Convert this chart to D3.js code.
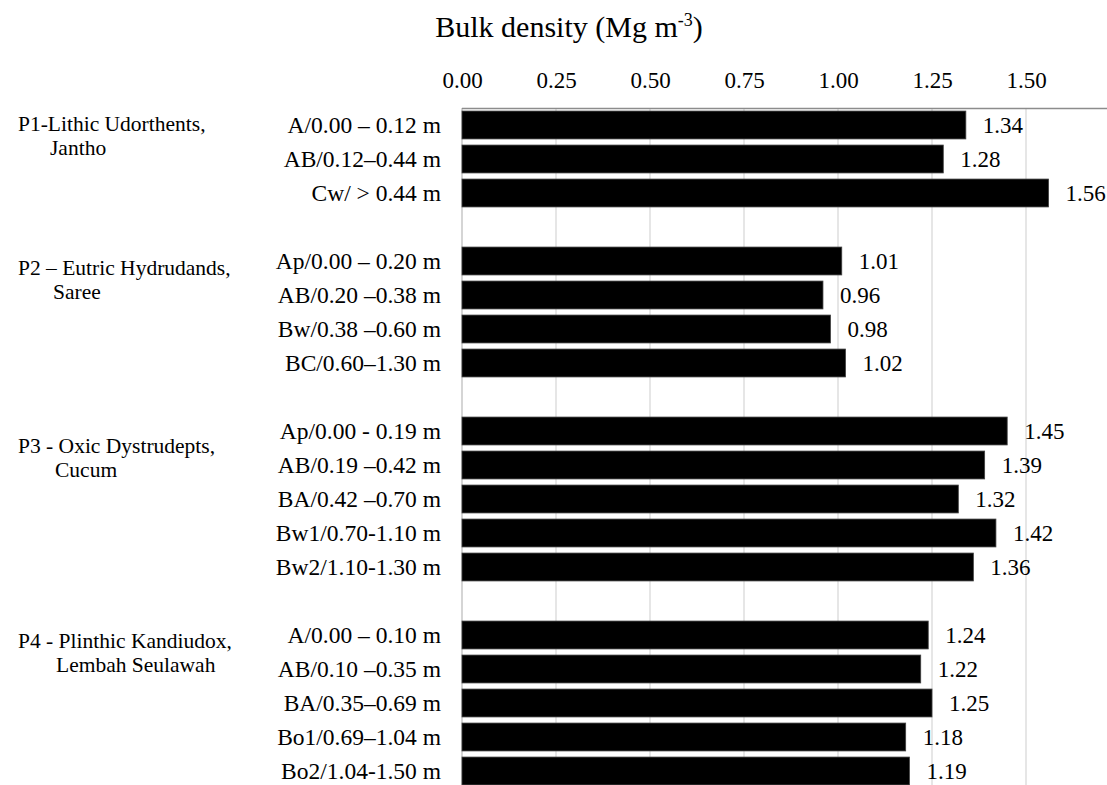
<!DOCTYPE html>
<html>
<head>
<meta charset="utf-8">
<script src="https://cdn.jsdelivr.net/npm/d3@7"></script>
<style>
  body { margin: 0; background: #fff; }
  text { font-family: "Liberation Serif", "Times New Roman", serif; fill: #000; }
</style>
</head>
<body>
<div id="root"></div>
<script>
// Horizons (one row each), blank rows separate the profiles
const horizons = [
  "A/0.00 – 0.12 m", "AB/0.12–0.44 m", "Cw/ > 0.44 m",
  "Ap/0.00 – 0.20 m", "AB/0.20 –0.38 m", "Bw/0.38 –0.60 m", "BC/0.60–1.30 m",
  "Ap/0.00 - 0.19 m", "AB/0.19 –0.42 m", "BA/0.42 –0.70 m", "Bw1/0.70-1.10 m", "Bw2/1.10-1.30 m",
  "A/0.00 – 0.10 m", "AB/0.10 –0.35 m", "BA/0.35–0.69 m", "Bo1/0.69–1.04 m", "Bo2/1.04-1.50 m",
];
const bulkDensity = [
  1.34, 1.28, 1.56,
  1.01, 0.96, 0.98, 1.02,
  1.45, 1.39, 1.32, 1.42, 1.36,
  1.24, 1.22, 1.25, 1.18, 1.19,
];
const profileOf = [0, 0, 0, 1, 1, 1, 1, 2, 2, 2, 2, 2, 3, 3, 3, 3, 3];
const profileNames = [
  ["P1-Lithic Udorthents,", "Jantho"],
  ["P2 – Eutric Hydrudands,", "Saree"],
  ["P3 - Oxic Dystrudepts,", "Cucum"],
  ["P4 - Plinthic Kandiudox,", "Lembah Seulawah"],
];
const xTicks = [0, 0.25, 0.5, 0.75, 1.0, 1.25, 1.5];

// Layout
const width = 1107;
const height = 785;
const x0 = 462;
const pxPerUnit = 376;
const topY = 108;
const rowStep = 34;
const labelDy = [20, 28, 36, 27]; // baseline of profile name below its first bar
const indent = [50, 53, 55, 56];

// Build slot list: each profile's rows then one blank slot
const rows = horizons.map((h, i) => ({ label: h, value: bulkDensity[i], profile: profileOf[i] }));
const slots = [];
rows.forEach((r, i) => {
  if (i > 0 && r.profile !== rows[i - 1].profile) slots.push("gap" + r.profile);
  r.slot = "row" + i;
  slots.push(r.slot);
});

const svg = d3.select("#root").append("svg")
  .attr("width", width)
  .attr("height", height);

const x = d3.scaleLinear().domain([0, 1.75]).range([x0, x0 + 1.75 * pxPerUnit]);
const y = d3.scaleBand()
  .domain(slots)
  .range([topY, topY + slots.length * rowStep])
  .paddingInner(0.18)
  .paddingOuter(0.09);

// Gridlines
svg.append("g")
  .selectAll("line")
  .data(xTicks)
  .join("line")
  .attr("x1", (d) => x(d))
  .attr("x2", (d) => x(d))
  .attr("y1", topY)
  .attr("y2", height)
  .attr("stroke", (d) => (d === 0 ? "#bfbfbf" : "#d9d9d9"))
  .attr("stroke-width", 1.3);

// Top axis
const xAxis = d3.axisTop(x)
  .tickValues(xTicks)
  .tickFormat(d3.format(".2f"))
  .tickSize(0)
  .tickPadding(20);
const axisG = svg.append("g")
  .attr("transform", `translate(0,${topY})`)
  .call(xAxis);
axisG.select(".domain").attr("stroke", "#8c8c8c").attr("stroke-width", 1.3)
  .attr("d", `M${x0},0.5H${width}`);
axisG.selectAll("text")
  .attr("dy", 0)
  .style("font-family", '"Liberation Serif", serif')
  .style("font-size", "23px")
  .attr("fill", "#000");

// Title
svg.append("text")
  .attr("x", 569)
  .attr("y", 37)
  .attr("text-anchor", "middle")
  .style("font-size", "30px")
  .html('Bulk density (Mg m<tspan dy="-11" font-size="18px">-3</tspan><tspan dy="11">)</tspan>');

// Bars
svg.append("g")
  .selectAll("rect")
  .data(rows)
  .join("rect")
  .attr("x", x(0))
  .attr("y", (d) => y(d.slot))
  .attr("width", (d) => x(d.value) - x(0))
  .attr("height", y.bandwidth())
  .attr("fill", "#000")
  .attr("stroke", "#404040")
  .attr("stroke-width", 0.8);

// Value labels
svg.append("g")
  .selectAll("text")
  .data(rows)
  .join("text")
  .attr("x", (d) => x(d.value) + 17)
  .attr("y", (d) => y(d.slot) + y.bandwidth() / 2)
  .attr("dy", "0.35em")
  .style("font-size", "23px")
  .text((d) => d.value.toFixed(2));

// Horizon labels
svg.append("g")
  .selectAll("text")
  .data(rows)
  .join("text")
  .attr("x", 441)
  .attr("y", (d) => y(d.slot) + y.bandwidth() / 2)
  .attr("dy", "0.35em")
  .attr("text-anchor", "end")
  .style("font-size", "23.5px")
  .text((d) => d.label);

// Profile names
profileNames.forEach((lines, p) => {
  const first = rows.find((r) => r.profile === p);
  const by = y(first.slot) + labelDy[p];
  const t = svg.append("text")
    .attr("y", by)
    .style("font-size", "21.5px");
  t.append("tspan").attr("x", 18).text(lines[0]);
  t.append("tspan").attr("x", indent[p]).attr("dy", 24).text(lines[1]);
});
</script>
</body>
</html>
